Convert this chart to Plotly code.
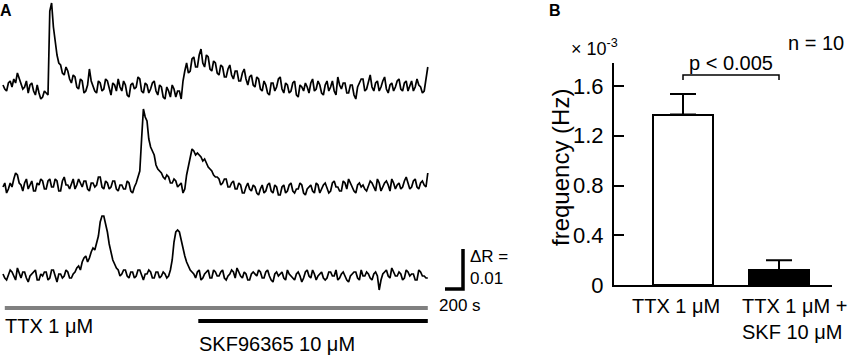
import numpy as np
import plotly.graph_objects as go

W, H = 850, 358          # reference picture size (all positions below are in its pixels)
FIG_H = 371              # rendered height (the page photo is squeezed to 358 tall)
FONT = "Liberation Sans, Arial, Helvetica, sans-serif"

# ---------------- Panel A data: ΔR traces (units of 1e-3), one sample every 20 s
dt_s = 20
trace1 = [0.5, -0.5, -1.0, 1.0, 1.5, 0.0, 2.0, 1.0, 3.5, 2.0,
          1.0, -0.5, 0.0, 1.5, -1.5, 0.5, 1.0, -1.0, -2.0, 0.5,
          -1.5, -3.0, -2.5, -1.0, -1.5, -2.0, 19.0, 21.0, 15.0, 11.0,
          8.0, 6.0, 5.5, 3.5, 3.0, 5.0, 4.0, 2.0, 1.0, 3.0,
          2.5, 0.0, -0.5, 2.0, 1.5, -1.5, -1.0, 0.5, 4.5, 1.5,
          0.0, -1.0, -1.5, 1.5, 1.0, -1.0, -0.5, 2.0, 1.5, -0.5,
          -2.0, 1.0, 0.5, -1.0, 2.0, 0.0, -1.0, 1.5, 0.5, -2.0,
          -2.5, 0.5, 1.0, -0.5, 0.0, 2.5, 2.0, -1.0, -1.5, 1.0,
          0.5, -1.5, -0.5, 1.0, 1.5, -1.0, -2.0, 0.5, 0.0, -2.5,
          -3.0, 0.0, -1.0, -2.5, 0.5, -0.5, -2.5, -1.0, -1.0, -3.0,
          1.5, 4.0, 6.0, 3.5, 4.0, 7.0, 7.5, 5.0, 5.0, 8.0,
          9.5, 6.0, 5.0, 8.0, 7.5, 4.5, 4.0, 6.5, 6.0, 3.5,
          3.0, 5.5, 5.0, 2.5, 2.5, 4.5, 5.5, 3.0, 2.0, 4.0,
          4.0, 1.5, 1.5, 3.5, 4.5, 2.0, 0.5, 2.5, 3.0, 0.5,
          0.0, 2.5, 2.0, -0.5, -1.0, 1.5, 0.5, -1.5, -2.0, 1.0,
          1.0, -1.0, 0.0, 2.0, 2.5, -0.5, -1.5, 1.0, 0.5, -1.5,
          -1.0, 1.0, 1.5, -2.0, -2.5, 0.5, 0.0, -1.0, 1.0, 0.0,
          -1.5, 1.0, 2.0, -1.0, -0.5, 1.5, 0.5, -1.5, -2.0, 0.5,
          1.5, -1.0, 0.0, 1.5, -1.0, -2.0, 2.5, 0.5, -0.5, 1.0,
          1.0, -1.5, -1.5, 0.5, 0.5, -2.0, -3.0, 0.0, 1.0, 2.0,
          2.0, -1.0, -0.5, 1.0, 3.0, 0.0, -1.0, 1.0, 1.5, -1.0,
          0.0, 1.5, 2.5, -0.5, -1.5, 0.5, 1.0, -1.0, 0.0, 1.5,
          2.0, -0.5, -1.0, 1.0, 1.5, -1.0, 0.5, 1.5, -1.0, 0.0,
          2.0, 0.5, 0.0, -1.5, -1.0, 1.5, 5.0]
trace2 = [0.0, 1.0, -1.5, -0.5, 1.0, 0.0, 2.0, 3.5, 3.0, 1.0,
          0.5, -1.0, 1.0, 2.0, -0.5, 0.5, 1.5, -1.0, -1.0, 1.0,
          0.5, 2.0, 1.5, -0.5, -0.5, 1.5, 2.0, 0.0, 0.0, 2.0,
          1.5, -1.0, -1.0, 1.5, 2.5, 0.5, 0.5, -0.5, 1.0, 2.0,
          -0.5, 0.5, 2.0, 1.0, 0.0, 1.5, 1.5, -0.5, -1.0, 1.0,
          1.0, 0.0, 0.5, 2.5, 2.5, 0.0, -0.5, 1.5, 1.0, -0.5,
          0.0, 1.5, 1.5, -0.5, -1.0, 0.5, 0.5, -0.5, -0.5, 1.5,
          1.0, -1.0, -1.5, 0.0, 1.0, 2.5, 4.0, 12.0, 19.5, 17.5,
          16.5, 12.0, 10.0, 9.0, 8.0, 5.5, 4.5, 4.0, 3.5, 2.5,
          2.0, 3.0, 2.5, 1.0, 1.0, 2.0, 1.5, 0.0, 0.5, 1.0,
          -1.5, -0.5, 3.0, 5.5, 7.5, 9.5, 9.0, 8.0, 8.5, 8.0,
          7.5, 6.5, 7.0, 6.0, 5.0, 4.5, 4.0, 3.0, 2.5, 2.5,
          2.0, 0.5, 1.0, 2.0, 2.0, 0.0, 0.0, 1.0, 1.5, -0.5,
          -0.5, 1.0, 0.5, -1.5, -1.5, 0.0, 1.0, -0.5, -1.0, 0.5,
          0.0, -1.5, -2.0, -0.5, 0.5, -1.5, -1.0, 0.5, 1.0, -1.0,
          -1.5, 0.5, 0.0, -2.0, -2.0, 0.0, 0.5, -1.5, -1.0, 0.5,
          1.0, -1.0, -1.5, -0.5, -0.5, 1.0, 0.5, -1.5, -2.0, -0.5,
          0.0, 0.5, -1.0, -1.5, 1.0, 0.5, -1.5, -0.5, 0.5, 1.0,
          -0.5, -1.5, -1.0, 1.0, 1.5, 0.0, 0.0, -1.0, -1.0, 1.5,
          1.0, -0.5, 2.0, 1.0, 0.0, -1.0, -1.5, 0.5, 1.0, 0.0,
          0.5, -0.5, -1.0, 0.5, 1.5, 1.0, 0.0, -1.0, 2.0, 1.0,
          -1.0, 0.0, 1.0, 1.5, 0.5, -1.0, 2.0, 1.0, -0.5, 0.5,
          1.0, -0.5, 0.0, 1.5, 2.5, 1.0, -0.5, 0.0, 1.5, 2.0,
          0.0, -0.5, 1.0, 1.5, 0.5, 0.0, 3.5]
trace3 = [0.5, -0.5, -1.0, 0.5, 1.5, 1.0, 0.0, -1.0, 2.0, 0.5,
          -0.5, 1.0, 1.0, -0.5, -1.5, 0.0, 0.5, 1.0, 1.5, -1.0,
          -1.0, 0.5, 0.0, 1.0, 1.0, -1.0, -0.5, 1.5, 1.5, 0.0,
          -1.5, 0.5, 0.5, -0.5, 0.0, 1.5, 1.0, -0.5, -0.5, 0.5,
          1.0, 2.0, 2.5, 1.5, 3.5, 4.5, 5.0, 3.5, 4.5, 6.0,
          7.0, 6.5, 8.5, 10.0, 13.5, 15.0, 15.0, 13.0, 11.0, 8.0,
          6.0, 4.0, 3.0, 2.0, 1.5, 0.0, 0.5, 1.5, 1.5, 0.0,
          -0.5, 1.0, 1.0, -0.5, 0.0, 1.5, 1.5, 0.0, -1.0, 0.5,
          0.5, 1.5, 1.0, -0.5, -0.5, 1.0, 1.0, -0.5, 0.0, 1.0,
          0.5, -0.5, 0.0, 1.5, 4.0, 8.5, 11.0, 11.5, 11.0, 9.0,
          6.5, 5.0, 3.5, 2.5, 1.5, 1.0, 0.5, -0.5, 1.0, 1.5,
          -1.0, -0.5, 0.5, 1.0, 1.5, -0.5, -0.5, 1.5, 1.0, 0.0,
          0.0, 1.0, 1.5, -0.5, -1.0, 0.0, 0.5, 1.5, 1.0, -0.5,
          2.0, 1.0, 0.0, -0.5, 1.0, 0.5, -1.0, -1.0, 0.5, 1.0,
          0.5, 0.0, 1.5, 1.0, -0.5, -0.5, 1.0, 1.5, 0.0, -1.0,
          -1.5, 0.5, 1.0, 0.0, 0.5, 1.0, -0.5, -1.0, 1.5, 0.5,
          0.0, -0.5, -1.0, 0.5, 1.0, 0.0, -1.5, -0.5, 1.0, 1.5,
          0.0, -0.5, 1.5, 0.5, -1.0, 0.0, 0.5, 1.0, -0.5, -1.0,
          -0.5, 1.0, 1.0, 0.0, 0.0, 1.5, -1.0, -0.5, 0.5, 1.0,
          0.0, -1.0, -1.5, 0.0, 0.5, 1.0, 1.0, -0.5, -1.0, 1.5,
          0.0, 0.0, 1.0, 0.5, -0.5, -1.0, 0.5, 1.0, 0.0, -3.5,
          -1.0, 0.5, 1.0, 1.5, 0.0, -0.5, 2.0, 1.0, 0.0, 0.0,
          1.0, 0.5, -1.0, -0.5, 1.5, 1.0, 0.0, 0.5, 0.5, -1.0,
          -1.0, 1.5, 1.0, 0.0, 0.0, -0.5, -0.5]
drug_labels = ["TTX 1 μM", "SKF96365 10 μM"]
drug_start_s = [20, 2170]
drug_end_s = [4720, 4720]
scale_time_s = 200
scale_dr = 0.01
scale_time_label = "200 s"
scale_dr_label = "ΔR =<br>0.01"

# ---------------- Panel B data
groups = ["TTX 1 μM", "TTX 1 μM +<br>SKF 10 μM"]
freq_mean = [1.37, 0.12]     # x 1e-3 Hz
freq_sem = [0.165, 0.08]
y_ticks = [0, 0.4, 0.8, 1.2, 1.6]
y_tick_text = ["0", "0.4", "0.8", "1.2", "1.6"]
p_text = "p < 0.005"
n_text = "n = 10"

# ---------------- layout geometry
S_PER_PX = 200 / 18          # seconds per pixel in panel A
DR_PER_PX = 0.01 / 40        # ΔR per pixel in panel A


def px(x):
    return x / W


def py(y):
    return 1 - y / H


def dr_at(y):
    return (H - y) * DR_PER_PX


def t_at(x):
    return (x - 3) * S_PER_PX


bases = [dr_at(87), dr_at(187), dr_at(276)]
colors_drug = ["#808080", "#000000"]
drug_y = [dr_at(308), dr_at(321)]

fig = go.Figure()

for vals, base in zip([trace1, trace2, trace3], bases):
    v = np.array(vals) * 1e-3
    t = np.arange(len(v)) * dt_s
    fig.add_trace(go.Scatter(x=t, y=base + v, mode="lines",
                             line=dict(color="black", width=1.7),
                             xaxis="x", yaxis="y", showlegend=False, hoverinfo="skip"))

for s, e, yv, c in zip(drug_start_s, drug_end_s, drug_y, colors_drug):
    fig.add_trace(go.Scatter(x=[s, e], y=[yv, yv], mode="lines",
                             line=dict(color=c, width=4),
                             xaxis="x", yaxis="y", showlegend=False, hoverinfo="skip"))

# scale bar
tc, yc = t_at(463), dr_at(289)
fig.add_trace(go.Scatter(x=[tc - scale_time_s, tc, tc], y=[yc, yc, yc + scale_dr], mode="lines",
                         line=dict(color="black", width=3.5),
                         xaxis="x", yaxis="y", showlegend=False, hoverinfo="skip"))

# Panel B bars
fig.add_trace(go.Bar(x=[0, 1], y=freq_mean, width=0.615,
                     marker=dict(color=["white", "black"], line=dict(color="black", width=2)),
                     error_y=dict(type="data", symmetric=False, array=freq_sem, arrayminus=[0, 0],
                                  color="black", thickness=2, width=13),
                     xaxis="x2", yaxis="y2", showlegend=False, hoverinfo="skip"))

fig.update_layout(
    width=W, height=FIG_H, autosize=False, margin=dict(l=0, r=0, t=0, b=0),
    paper_bgcolor="white", plot_bgcolor="white",
    font=dict(family=FONT, color="black", size=20),
    xaxis=dict(domain=[0, px(540)], range=[t_at(0), t_at(540)], visible=False),
    yaxis=dict(domain=[0, 1], range=[0, H * DR_PER_PX], visible=False),
    xaxis2=dict(domain=[px(614), px(832)], range=[-0.71875, 1.552], anchor="y2",
                showline=True, linecolor="black", linewidth=2, showgrid=False,
                zeroline=False, showticklabels=False, ticks=""),
    yaxis2=dict(domain=[py(285), py(63)], range=[0, 1.785], anchor="x2",
                showline=True, linecolor="black", linewidth=2, showgrid=False, zeroline=False,
                ticks="inside", ticklen=10, tickwidth=2, tickcolor="black",
                tickvals=y_ticks, ticktext=y_tick_text, ticklabelstandoff=4,
                tickfont=dict(size=22)),
    bargap=0,
)

ann = []
# panel letters
ann.append(dict(text="<b>A</b>", x=px(-2), y=py(10), xref="paper", yref="paper",
                xanchor="left", yanchor="middle", showarrow=False, font=dict(size=16)))
ann.append(dict(text="<b>B</b>", x=px(547), y=py(10), xref="paper", yref="paper",
                xanchor="left", yanchor="middle", showarrow=False, font=dict(size=16)))
# drug labels
ann.append(dict(text=drug_labels[0], x=drug_start_s[0], y=dr_at(326), xref="x", yref="y",
                xanchor="left", yanchor="middle", showarrow=False, xshift=-2))
ann.append(dict(text=drug_labels[1], x=drug_start_s[1], y=dr_at(344), xref="x", yref="y",
                xanchor="left", yanchor="middle", showarrow=False, xshift=-1))
# scale bar labels
ann.append(dict(text=scale_dr_label, x=px(468), y=py(267), xref="paper", yref="paper",
                xanchor="left", yanchor="middle", align="left", showarrow=False,
                font=dict(size=17)))
ann.append(dict(text=scale_time_label, x=px(437), y=py(305), xref="paper", yref="paper",
                xanchor="left", yanchor="middle", showarrow=False, font=dict(size=17)))
# panel B texts
ann.append(dict(text="frequency (Hz)", x=px(561), y=py(168), xref="paper", yref="paper",
                xanchor="center", yanchor="middle", textangle=-90, showarrow=False,
                font=dict(size=24)))
ann.append(dict(text="× 10<sup>-3</sup>", x=px(594), y=py(48), xref="paper", yref="paper",
                xanchor="center", yanchor="middle", showarrow=False, font=dict(size=18)))
ann.append(dict(text=n_text, x=px(816), y=py(43), xref="paper", yref="paper",
                xanchor="center", yanchor="middle", showarrow=False, font=dict(size=20)))
ann.append(dict(text=p_text, x=0.5, y=1.688, xref="x2", yref="y2",
                xanchor="center", yanchor="bottom", showarrow=False, yshift=-1,
                font=dict(size=20)))
ann.append(dict(text=groups[0], x=0, y=0, xref="x2", yref="y2", xanchor="center",
                yanchor="top", showarrow=False, yshift=-8, xshift=-7, font=dict(size=20)))
ann.append(dict(text=groups[1], x=1, y=0, xref="x2", yref="y2", xanchor="center",
                yanchor="top", align="left", showarrow=False, yshift=-8, xshift=15,
                font=dict(size=20)))
fig.update_layout(annotations=ann)

# significance bracket
fig.add_shape(type="path", path="M 0,1.648 L 0,1.688 L 1,1.688 L 1,1.648",
              xref="x2", yref="y2", line=dict(color="black", width=1.5))

fig.write_html(
    "out.html",
    config={"displayModeBar": False},
    post_script=(
        "document.documentElement.style.overflow='hidden';"
        "document.body.style.margin='0';document.body.style.padding='0';"
        "document.body.style.overflow='hidden';"
    ),
)
